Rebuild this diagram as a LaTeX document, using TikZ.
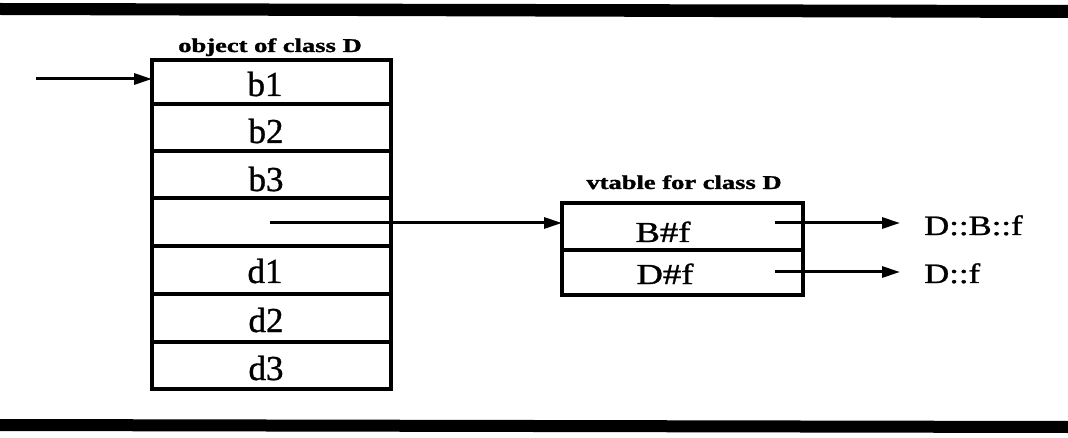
\documentclass[tikz,border=0pt]{standalone}
\usepackage{graphicx}
\usepackage{fontspec}
\setmainfont{Liberation Serif}
\newfontfamily\heavyserif[FakeBold=1.0]{Liberation Serif}
\newfontfamily\capserif[FakeBold=1.2]{Liberation Serif Bold}
\usetikzlibrary{arrows.meta}
\begin{document}
\begin{tikzpicture}[x=1pt,y=-1pt,
  cell/.style={draw, line width=3.2pt, minimum width=239pt, inner sep=0pt, outer sep=0pt},
  vcell/.style={draw, line width=3.2pt, minimum width=241pt, inner sep=0pt, outer sep=0pt},
  celltext/.style={anchor=base, inner sep=0pt, font=\heavyserif\fontsize{35}{35}\selectfont},
  vtext/.style={anchor=base, inner sep=0pt, font=\heavyserif\fontsize{29}{29}\selectfont},
  fntext/.style={anchor=base west, inner xsep=24pt, inner ysep=0pt, font=\heavyserif\fontsize{28}{28}\selectfont},
  caption/.style={anchor=base, inner sep=0pt, font=\capserif\fontsize{19.5}{19.5}\selectfont},
  arr/.style={line width=3pt, -{Triangle[length=18pt,width=11pt]}},
  rulebar/.style={fill=black}
]
\useasboundingbox (0,0) rectangle (1068,438);

% heavy rules above and below
\fill[rulebar] (0,3) -- (1068,5) -- (1068,18) -- (0,15) -- cycle;
\fill[rulebar] (0,419) -- (1068,421) -- (1068,433) -- (0,431) -- cycle;

% object layout
\node[caption] (objcap) at (270,52) {\scalebox{1.36}[1]{object of class D}};
\node[cell, minimum height=44pt] (c1) at (271.5,82) {};
\node[cell, minimum height=47pt] (c2) at (271.5,127.5) {};
\node[cell, minimum height=47pt] (c3) at (271.5,174.5) {};
\node[cell, minimum height=48pt] (c4) at (271.5,222) {};
\node[cell, minimum height=48pt] (c5) at (271.5,270) {};
\node[cell, minimum height=48pt] (c6) at (271.5,318) {};
\node[cell, minimum height=47pt] (c7) at (271.5,365.5) {};
\node[celltext] (t1) at (265,96) {b1};
\node[celltext] (t2) at (266,143) {b2};
\node[celltext] (t3) at (266,191) {b3};
\node[celltext] (t5) at (265,283) {d1};
\node[celltext] (t6) at (266,332) {d2};
\node[celltext] (t7) at (266,380) {d3};

% virtual table
\node[caption] (vcap) at (684,189) {\scalebox{1.36}[1]{vtable for class D}};
\node[vcell, minimum height=47pt] (v1) at (682.5,226.5) {};
\node[vcell, minimum height=45pt] (v2) at (682.5,272.5) {};
\node[vtext] (vt1) at (663,242) {\scalebox{1.26}[1]{B\#f}};
\node[vtext] (vt2) at (665,284) {\scalebox{1.26}[1]{D\#f}};

% function targets
\node[fntext] (dbf) at (900,235) {\scalebox{1.24}[1]{D::B::f}};
\node[fntext] (df) at (900,283) {\scalebox{1.24}[1]{D::f}};

% pointers
\coordinate (in) at (36,79);
\coordinate (vptr) at (270,223);
\coordinate (s1) at (775,223);
\coordinate (s2) at (775,272);
\draw[arr] (in) -- (in -| c1.west);
\draw[arr] (vptr) -- (vptr -| v1.west);
\draw[arr] (s1) -- (s1 -| dbf.west);
\draw[arr] (s2) -- (s2 -| df.west);
\end{tikzpicture}
\end{document}
